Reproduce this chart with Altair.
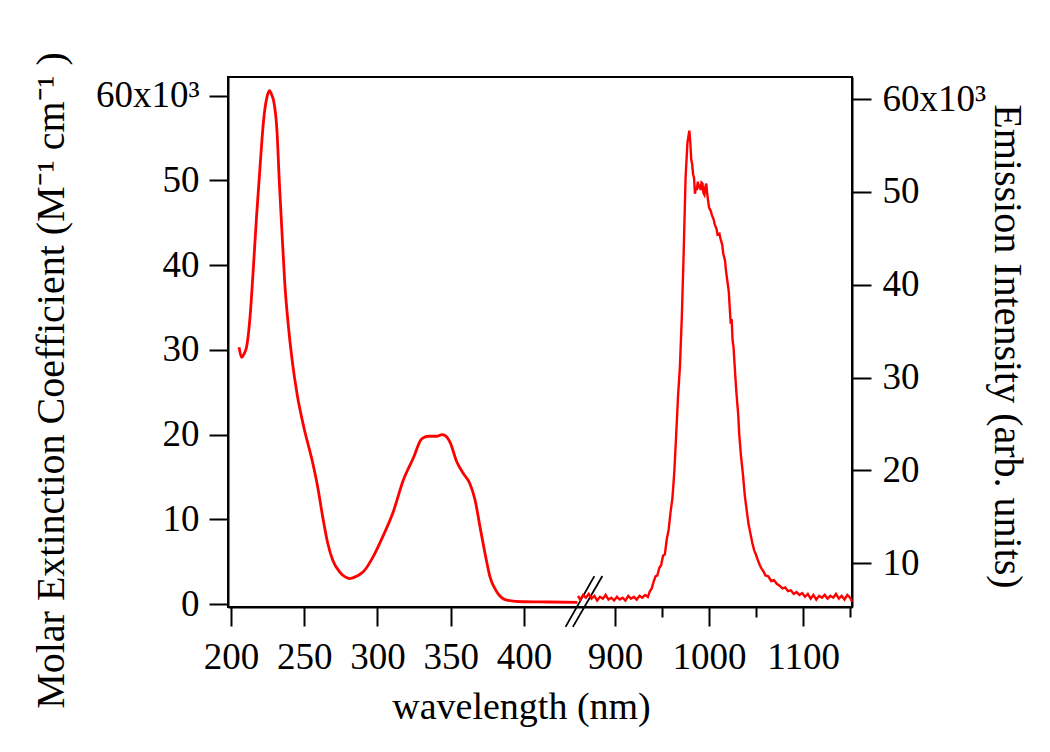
import altair as alt
import pandas as pd

# Absorption (left axis, x10^3 M^-1 cm^-1)
abs_wl = [205.5, 207.2, 208.5, 210.6, 213.0, 215.2, 217.5, 219.9, 222.2, 224.5, 226.3, 228.0,
          229.1, 231.4, 233.0, 234.8, 236.7, 239.0, 241.8, 245.2, 249.8, 255.6, 259.0, 262.5,
          266.0, 269.4, 274.1, 278.0, 281.0, 286.0, 290.3, 297.1, 304.0, 310.8, 317.6, 324.4,
          330.2, 334.7, 340.4, 344.0, 346.1, 349.5, 354.1, 358.6, 363.1, 366.6, 370.0, 373.4,
          376.8, 381.4, 388.2, 399.5, 417.7, 436.5]
abs_val = [30.3, 29.1, 29.4, 30.3, 33.9, 39.5, 45.9, 51.8, 57.0, 59.8, 60.6, 60.0,
           59.4, 55.8, 49.8, 43.9, 37.9, 33.1, 28.7, 24.7, 20.8, 16.8, 14.0, 10.4,
           7.2, 5.2, 3.8, 3.2, 3.0, 3.3, 3.8, 5.6, 8.1, 10.9, 14.6, 17.2,
           19.5, 19.8, 19.8, 20.0, 19.9, 19.1, 16.8, 15.4, 14.2, 12.3, 9.1, 6.0,
           3.2, 1.45, 0.47, 0.27, 0.24, 0.2]

# Emission (right axis, x10^3 arb. units)
em_wl = [860, 863, 866, 869, 872, 875, 878, 881, 884, 887, 890, 893, 896, 899, 902, 905, 908, 911,
         914, 917, 920, 923, 926, 929, 932, 935, 937, 939, 941, 943, 945, 947, 949, 951, 953, 955,
         957, 959, 961, 963, 965, 967, 969, 971, 973, 975, 977, 979, 980, 981, 982, 983, 984, 985,
         986, 987, 988, 989, 990, 991, 992, 993, 994, 995, 996, 997, 998, 999, 1000, 1002, 1003,
         1005, 1006, 1008, 1009, 1011, 1012, 1014, 1015, 1017, 1018, 1020, 1021, 1022, 1023, 1024,
         1025, 1026, 1028, 1029, 1031, 1032, 1034, 1036, 1038, 1040, 1042, 1044, 1046, 1048, 1050,
         1052, 1054, 1056, 1058, 1060, 1063, 1066, 1069, 1072, 1075, 1078, 1081, 1084, 1087, 1090,
         1093, 1096, 1099, 1102, 1105, 1108, 1111, 1114, 1117, 1120, 1123, 1126, 1129, 1132, 1135,
         1138, 1141, 1144, 1147, 1150, 1152]
em_val = [6.5, 6.1, 6.6, 6.3, 6.7, 6.2, 6.5, 6.0, 6.4, 6.2, 6.6, 6.1, 6.3, 6.0, 6.4, 6.1, 6.3, 6.0,
          6.5, 6.2, 6.4, 6.1, 6.5, 6.3, 6.6, 6.4, 7.0, 7.3, 8.0, 8.6, 8.7, 9.5, 9.8, 10.8, 11.0, 12.6,
          13.6, 15.5, 17.0, 19.8, 23.8, 28.0, 31.2, 36.5, 43.5, 51.5, 55.3, 56.6, 55.4, 53.5, 53.0, 51.9, 51.5, 49.8,
          50.5, 50.2, 51.1, 50.4, 50.8, 50.2, 51.0, 50.9, 49.9, 49.7, 50.5, 50.9, 49.8, 49.0, 48.3, 47.9, 47.5,
          47.0, 46.5, 46.0, 45.4, 45.5, 45.0, 44.3, 43.4, 42.6, 41.5, 40.0, 39.2, 37.5, 35.8, 36.3,
          34.0, 33.3, 30.0, 28.5, 26.0, 24.0, 21.5, 19.6, 17.3, 15.7, 14.2, 13.2, 12.2, 11.4, 10.9,
          10.3, 9.8, 9.4, 9.1, 8.7, 8.6, 8.1, 8.2, 7.8, 7.6, 7.3, 7.4, 7.0, 7.1, 6.7,
          6.9, 6.6, 6.8, 6.4, 6.7, 6.2, 6.6, 6.1, 6.5, 6.3, 6.6, 6.2, 6.5, 6.3, 6.7,
          6.2, 6.5, 6.1, 6.6, 6.3, 5.9]

x_major = [200, 250, 300, 350, 400, 900, 1000, 1100]
x_minor = [950, 1050, 1150]
left_ticks = [0, 10, 20, 30, 40, 50, 60]
right_ticks = [10, 20, 30, 40, 50, 60]

# axis-break marker (two slanted strokes)
brk_x1 = [428.4, 433.4]
brk_x2 = [878.0, 886.5]
brk_y1 = [-2.7, -2.7]
brk_y2 = [3.3, 3.3]

FONT = "Liberation Serif"
RED = "#ff0000"

abs_df = pd.DataFrame({"wl": abs_wl, "val": abs_val})
em_df = pd.DataFrame({"wl": em_wl, "em": em_val})
brk_df = pd.DataFrame({"wl": brk_x1, "wl2": brk_x2, "val": brk_y1, "val2": brk_y2})
minor_df = pd.DataFrame({"wl": x_minor})

xscale = alt.Scale(domain=[197.95, 436.9, 860.6, 1152], range=[0, 350, 350, 624],
                   nice=False, zero=False)
yl_scale = alt.Scale(domain=[-0.35, 62.2], nice=False, zero=False)
yr_scale = alt.Scale(domain=[5.3, 62.37], nice=False, zero=False)

x_axis = alt.Axis(values=x_major, format="d", orient="bottom", title="wavelength (nm)",
                  tickSize=19, labelPadding=42,
                  labelBaseline="alphabetic", labelFontSize=37, titleFontSize=38,
                  titleX=293, titleY=111, titleBaseline="alphabetic", labelFlush=False,
                  labelOverlap=False)

abs_line = alt.Chart(abs_df).mark_line(color=RED, strokeWidth=2.8, interpolate="monotone").encode(
    x=alt.X("wl:Q", scale=xscale, axis=x_axis),
    y=alt.Y("val:Q", scale=yl_scale,
            axis=alt.Axis(values=left_ticks, orient="left", tickSize=19, labelPadding=10,
                          labelFontSize=37, titleFontSize=40,
                          labelExpr="datum.value == 60 ? '60x10³' : datum.label",
                          title="Molar Extinction Coefficient (M⁻¹ cm⁻¹ )",
                          titleX=-165, titleY=303, titleBaseline="alphabetic")),
)

brk = alt.Chart(brk_df).mark_rule(color="black", strokeWidth=1.8).encode(
    x=alt.X("wl:Q", scale=xscale),
    x2="wl2:Q",
    y=alt.Y("val:Q", scale=yl_scale),
    y2="val2:Q",
)

left_layer = alt.layer(abs_line, brk)

em_line = alt.Chart(em_df).mark_line(color=RED, strokeWidth=2.4).encode(
    x=alt.X("wl:Q", scale=xscale, axis=None),
    y=alt.Y("em:Q", scale=yr_scale,
            axis=alt.Axis(values=right_ticks, orient="right", tickSize=19, labelPadding=11,
                          labelFontSize=37, titleFontSize=40,
                          labelExpr="datum.value == 60 ? '60x10³' : datum.label",
                          title="Emission Intensity (arb. units)",
                          titleX=142, titleY=269, titleBaseline="alphabetic")),
)

minor = alt.Chart(minor_df).mark_point(opacity=0).encode(
    x=alt.X("wl:Q", scale=xscale,
            axis=alt.Axis(values=x_minor, orient="bottom", tickSize=10, labels=False,
                          domain=False, title="")),
    y=alt.value(0),
)

chart = alt.layer(left_layer, em_line, minor).resolve_scale(
    y="independent"
).resolve_axis(
    x="independent"
).properties(
    width=624, height=530,
    padding={"left": 220, "top": 69, "right": 180, "bottom": 128},
    autosize=alt.AutoSizeParams(type="none"),
).configure_view(
    stroke="black", strokeWidth=2
).configure_axis(
    grid=False, domainColor="black", domainWidth=2, tickColor="black", tickWidth=2,
    labelColor="black", titleColor="black", labelFont=FONT, titleFont=FONT,
    titleFontWeight="normal", labelFontWeight="normal"
)

chart.save("out.html", embed_options={"renderer": "svg", "actions": False})
